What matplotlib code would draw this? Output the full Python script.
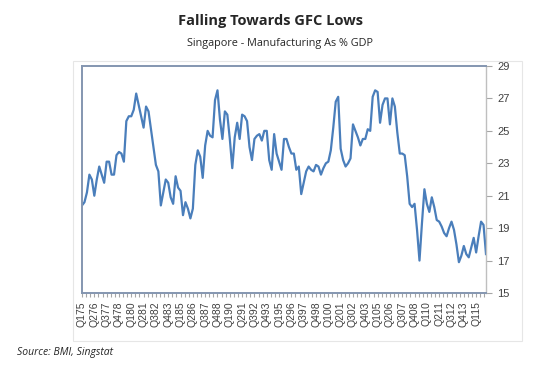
import matplotlib
matplotlib.use("Agg")
import matplotlib.pyplot as plt
from matplotlib.patches import Rectangle
from matplotlib.ticker import MultipleLocator

# Singapore manufacturing as % of GDP, quarterly Q1 1975 - Q1 2016
mfg_share = [
    20.4, 20.6, 21.2, 22.3, 22.0, 21.0, 22.0, 22.8, 22.3, 21.8,
    23.1, 23.1, 22.3, 22.3, 23.5, 23.7, 23.6, 23.1, 25.6, 25.9,
    25.9, 26.3, 27.3, 26.6, 25.9, 25.2, 26.5, 26.2, 25.1, 24.0,
    22.9, 22.5, 20.4, 21.2, 22.0, 21.8, 20.9, 20.5, 22.2, 21.5,
    21.3, 19.8, 20.6, 20.2, 19.6, 20.2, 22.9, 23.8, 23.4, 22.1,
    24.1, 25.0, 24.7, 24.6, 26.9, 27.5, 25.7, 24.5, 26.2, 26.0,
    24.5, 22.7, 24.6, 25.5, 24.5, 26.0, 25.9, 25.6, 24.0, 23.2,
    24.5, 24.7, 24.8, 24.4, 25.0, 25.0, 23.2, 22.6, 24.8, 23.6,
    23.1, 22.6, 24.5, 24.5, 24.0, 23.6, 23.6, 22.6, 22.8, 21.1,
    21.8, 22.5, 22.8, 22.6, 22.5, 22.9, 22.8, 22.3, 22.7, 23.0,
    23.1, 23.8, 25.2, 26.8, 27.1, 23.9, 23.2, 22.8, 23.0, 23.3,
    25.4, 25.0, 24.6, 24.1, 24.5, 24.5, 25.1, 25.0, 27.1, 27.5,
    27.4, 25.5, 26.6, 27.0, 27.0, 25.4, 27.0, 26.5, 24.9, 23.6,
    23.6, 23.5, 22.2, 20.5, 20.3, 20.5, 18.9, 17.0, 19.3, 21.4,
    20.5, 20.0, 20.9, 20.3, 19.5, 19.4, 19.1, 18.7, 18.5, 19.0,
    19.4, 18.9, 18.0, 16.9, 17.3, 17.9, 17.4, 17.2, 17.8, 18.4,
    17.5, 18.5, 19.4, 19.2, 17.4,
]

# every 5th quarter gets a label
x_labels = [
    "Q175", "Q276", "Q377", "Q478", "Q180", "Q281", "Q382", "Q483", "Q185",
    "Q286", "Q387", "Q488", "Q190", "Q291", "Q392", "Q493", "Q195", "Q296",
    "Q397", "Q498", "Q100", "Q201", "Q302", "Q403", "Q105", "Q206", "Q307",
    "Q408", "Q110", "Q211", "Q312", "Q413", "Q115",
]
y_ticks = [15, 17, 19, 21, 23, 25, 27, 29]

W, H = 534, 374
fig = plt.figure(figsize=(W / 100, H / 100), dpi=100)

# light frame around the chart
fig.patches.append(Rectangle((73 / W, 1 - 341 / H), (522 - 73) / W, (341 - 61) / H,
                             transform=fig.transFigure, fill=False,
                             edgecolor="#e6e6e6", linewidth=0.8))

ax = fig.add_axes([82 / W, 1 - 293 / H, (486 - 82) / W, (293 - 66) / H])

x = list(range(len(mfg_share)))
ax.plot(x, mfg_share, color="#4a7ebb", linewidth=1.6, solid_joinstyle="round")

ax.set_xlim(0, len(mfg_share) - 1)
ax.set_ylim(15, 29)

ax.set_xticks(range(0, 5 * len(x_labels), 5))
ax.set_xticklabels(x_labels, rotation=90, fontsize=7.5, color="#404040",
                   family="Liberation Sans")
ax.xaxis.set_minor_locator(MultipleLocator(5 / 3))
ax.tick_params(axis="x", which="both", direction="out", length=3,
               color="#a6a6a6", width=0.8, pad=3)

ax.yaxis.tick_right()
ax.set_yticks(y_ticks)
ax.set_yticklabels([str(v) for v in y_ticks], fontsize=8, color="#404040",
                   family="Liberation Sans")
ax.tick_params(axis="y", direction="out", length=4, color="#a6a6a6",
               width=0.8, pad=4)

for side in ["left", "top", "bottom"]:
    ax.spines[side].set_color("#8496b0")
    ax.spines[side].set_linewidth(1.4)
ax.spines["right"].set_color("#bfbfbf")
ax.spines["right"].set_linewidth(1.0)

fig.text(270 / W, 1 - 25.5 / H, "Falling Towards GFC Lows", ha="center",
         va="baseline", fontsize=10.5, fontweight="bold", color="#262626",
         family="Open Sans")
fig.text(280 / W, 1 - 46 / H, "Singapore - Manufacturing As % GDP", ha="center",
         va="baseline", fontsize=7.8, color="#262626", family="Open Sans")
fig.text(17 / W, 1 - 355.5 / H, "Source: BMI, Singstat", ha="left",
         va="baseline", fontsize=7.5, style="italic", color="#262626",
         family="Open Sans")

fig.savefig("out.png", dpi=100)
